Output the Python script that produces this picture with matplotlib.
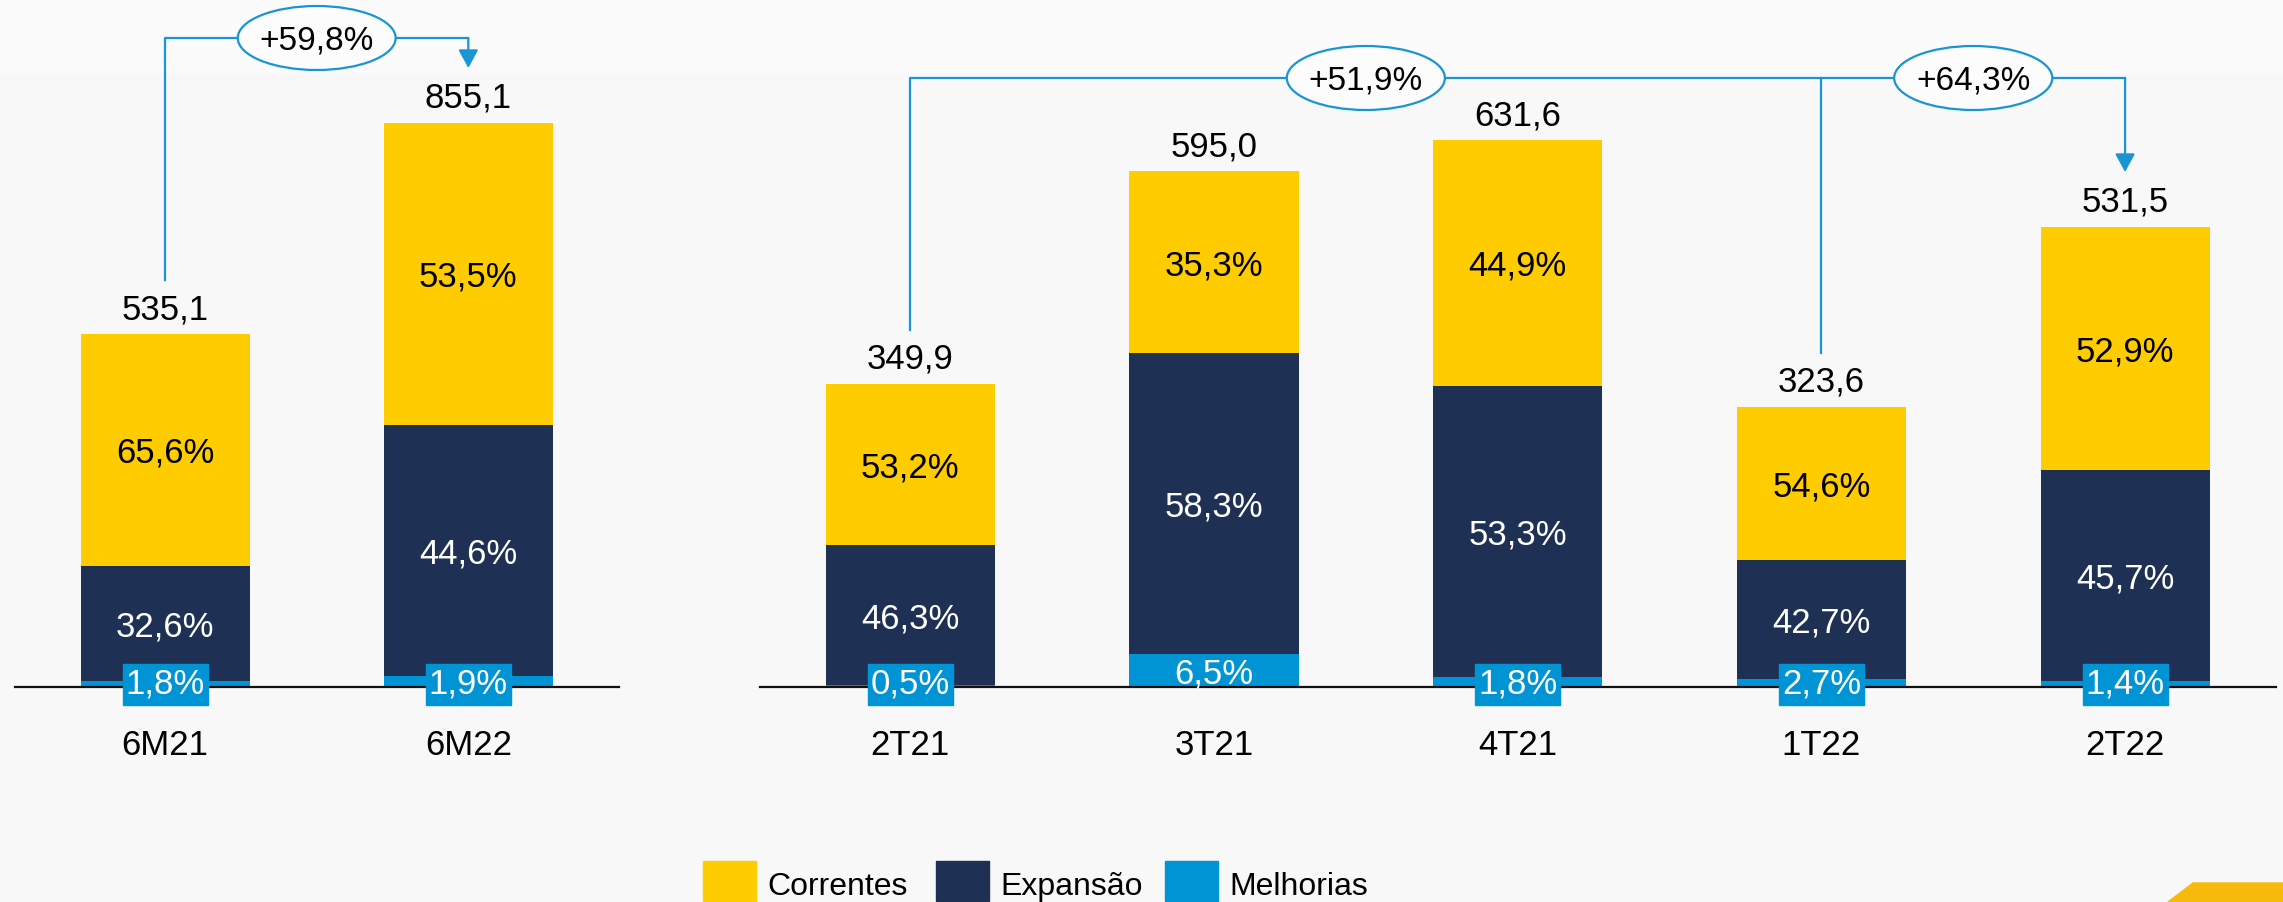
import numpy as np
import matplotlib.pyplot as plt
from matplotlib.patches import Rectangle, Ellipse, Polygon

plt.rcParams['font.family'] = ['Liberation Sans Narrow', 'Liberation Sans', 'DejaVu Sans']

# data
cats_sem = ['6M21', '6M22']
total_sem = [535.1, 855.1]
melhorias_sem = [1.8, 1.9]
expansao_sem = [32.6, 44.6]
correntes_sem = [65.6, 53.5]

cats_tri = ['2T21', '3T21', '4T21', '1T22', '2T22']
total_tri = [349.9, 595.0, 631.6, 323.6, 531.5]
melhorias_tri = [0.5, 6.5, 1.8, 2.7, 1.4]
expansao_tri = [46.3, 58.3, 53.3, 42.7, 45.7]
correntes_tri = [53.2, 35.3, 44.9, 54.6, 52.9]

growth_sem = '+59,8%'
growth_tri = ['+51,9%', '+64,3%']

YELLOW = '#FFCC00'
NAVY = '#1E3154'
BLUE = '#0094D4'
LINE = '#1895D2'
BG = '#F8F8F9'

W, H = 2283, 902
BASE = 687     # baseline, px from top
SPACING = 303.5
FS = 25


def fmt(v):
    return f'{v:.1f}'.replace('.', ',')


fig = plt.figure(figsize=(W / 100, H / 100), dpi=100)
fig.patch.set_facecolor(BG)
fig.add_artist(Rectangle((0, 1 - 72 / H), 1, 72 / H, transform=fig.transFigure,
                         color='#FBFBFB', zorder=0))


def draw_group(x0, x1, cats, totals, mel, exp, cor, ymax):
    ax = fig.add_axes([x0 / W, (H - BASE) / H, (x1 - x0) / W, BASE / H])
    ax.set_facecolor('none')
    n = len(cats)
    x = np.arange(n)
    totals = np.array(totals)
    m = totals * np.array(mel) / 100
    e = totals * np.array(exp) / 100
    c = totals * np.array(cor) / 100
    k = ymax / BASE  # data units per pixel

    w = 169 / SPACING
    ax.bar(x, m, width=w, color=BLUE, zorder=2)
    ax.bar(x, e, bottom=m, width=w, color=NAVY, zorder=2)
    ax.bar(x, c, bottom=m + e, width=w, color=YELLOW, zorder=2)
    ax.axhline(0, color='#111111', lw=1.6, zorder=3, clip_on=False)

    for i in range(n):
        ax.annotate(fmt(totals[i]), (x[i], totals[i]), xytext=(0, 15),
                    textcoords='offset pixels', ha='center', va='baseline',
                    fontsize=FS, color='black')
        ax.annotate(fmt(cor[i]) + '%', (x[i], m[i] + e[i] + c[i] / 2), xytext=(0, -13),
                    textcoords='offset pixels', ha='center', va='baseline',
                    fontsize=FS, color='black', zorder=4)
        ax.annotate(fmt(exp[i]) + '%', (x[i], m[i] + e[i] / 2), xytext=(0, -13),
                    textcoords='offset pixels', ha='center', va='baseline',
                    fontsize=FS, color='white', zorder=4)
        if m[i] / k > 30:
            ax.annotate(fmt(mel[i]) + '%', (x[i], m[i] / 2), xytext=(0, -13),
                        textcoords='offset pixels', ha='center', va='baseline',
                        fontsize=FS, color='white', zorder=4)
        else:
            bw = 85 / SPACING
            ax.add_patch(Rectangle((x[i] - bw / 2, (2.5 - 20.5) * k), bw, 41 * k,
                                   color=BLUE, zorder=4, clip_on=False))
            ax.annotate(fmt(mel[i]) + '%', (x[i], 0), xytext=(0, -7),
                        textcoords='offset pixels', ha='center', va='baseline',
                        fontsize=FS, color='white', zorder=5, annotation_clip=False)
        ax.annotate(cats[i], (x[i], 0), xytext=(0, -68), textcoords='offset pixels',
                    ha='center', va='baseline', fontsize=FS, color='black',
                    annotation_clip=False)

    ax.set_xlim(-0.495, n - 1 + 0.497)
    ax.set_ylim(0, ymax)
    ax.axis('off')
    return ax, totals, k


def bracket(ax, totals, k, i0, i1, y_px, tip_px, labels, label_x, mids=()):
    y_top = (BASE - y_px) * k
    y_tip = (BASE - tip_px) * k
    ax.plot([i0, i0, i1], [totals[i0] + 54 * k, y_top, y_top], color=LINE, lw=1.6,
            clip_on=False, zorder=3)
    for j in mids:
        ax.plot([j, j], [totals[j] + 54 * k, y_top], color=LINE, lw=1.6,
                clip_on=False, zorder=3)
    ax.annotate('', xy=(i1, y_tip), xytext=(i1, y_top),
                arrowprops=dict(arrowstyle='-|>,head_length=0.55,head_width=0.3',
                                color=LINE, lw=1.6, mutation_scale=20,
                                shrinkA=0, shrinkB=0), annotation_clip=False)
    for lab, lx in zip(labels, label_x):
        ax.add_patch(Ellipse((lx, y_top), 158 / SPACING, 64 * k, facecolor='#FCFCFC',
                             edgecolor=LINE, lw=1.6, zorder=5, clip_on=False))
        ax.annotate(lab, (lx, y_top), xytext=(0, -12), textcoords='offset pixels',
                    ha='center', va='baseline', fontsize=24, color='black',
                    zorder=6, annotation_clip=False)


ax1, t1, k1 = draw_group(15, 619, cats_sem, total_sem, melhorias_sem,
                         expansao_sem, correntes_sem, 1041.5)
bracket(ax1, t1, k1, 0, 1, 38, 68, [growth_sem], [0.5])

ax2, t2, k2 = draw_group(760, 2276, cats_tri, total_tri, melhorias_tri,
                         expansao_tri, correntes_tri, 793.3)
bracket(ax2, t2, k2, 0, 4, 78, 172, growth_tri, [1.5, 3.5], mids=[3])

# legend
leg = [('Correntes', YELLOW, 703), ('Expansão', NAVY, 936), ('Melhorias', BLUE, 1165)]
for name, col, lx in leg:
    fig.add_artist(Rectangle((lx / W, 1 / H), 53 / W, 40 / H,
                             transform=fig.transFigure, color=col))
    fig.text((lx + 64) / W, 7 / H, name, fontsize=23, va='baseline', ha='left')

# corner decoration
fig.add_artist(Polygon([(2168 / W, 0), (2193 / W, 19 / H), (1, 19 / H), (1, 0)],
                       closed=True, transform=fig.transFigure, color='#F5BA0B'))

fig.savefig('out.png', dpi=100, facecolor=fig.get_facecolor())
